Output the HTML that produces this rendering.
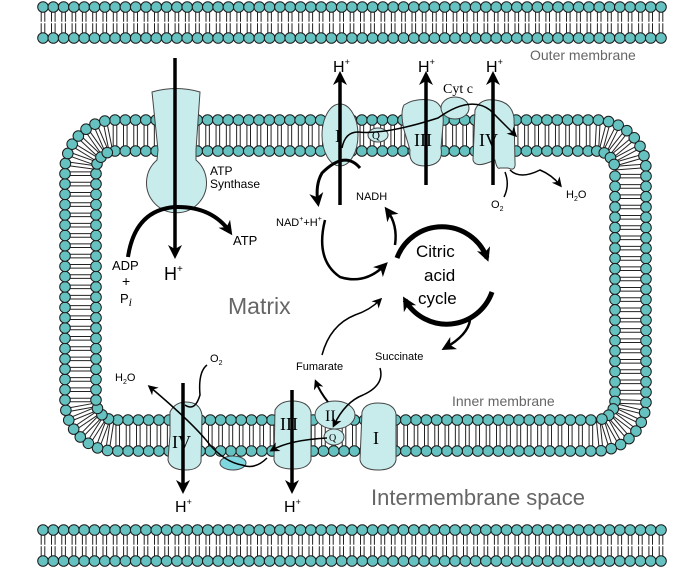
<!DOCTYPE html>
<html><head><meta charset="utf-8"><style>
html,body{margin:0;padding:0;background:#fff;width:687px;height:577px;overflow:hidden}
svg{display:block}
text{font-family:"Liberation Sans",sans-serif}
.s{font-family:"Liberation Serif",serif}
</style></head><body>
<svg id="svg" width="687" height="577" viewBox="0 0 687 577" xmlns="http://www.w3.org/2000/svg">
<defs>
<marker id="ah" markerWidth="10" markerHeight="10" refX="7" refY="5" orient="auto" markerUnits="userSpaceOnUse"><path d="M0,0 L10,5 L0,10 L3,5 Z" fill="#000"/></marker>
<marker id="ahb" markerWidth="14" markerHeight="14" refX="10" refY="7" orient="auto" markerUnits="userSpaceOnUse"><path d="M0,0 L14,7 L0,14 L4,7 Z" fill="#000"/></marker>
</defs>
<g id="mem"></g>
<g fill="#c8ecec" stroke="#444" stroke-width="1">
<path d="M152,92 Q176,85 200,92 L196,150 L196,160 A30,30 0 1 1 157,160 L158,150 Z"/>
<ellipse cx="340" cy="135" rx="18" ry="31"/>
<path d="M404,105 Q415,98 430,100 Q445,102 443,125 L441,148 Q444,165 425,166 Q408,166 410,150 L404,130 Q400,112 404,105 Z"/>
<ellipse cx="455" cy="108" rx="14" ry="11"/>
<path d="M475,110 Q480,98 495,100 Q512,102 514,118 L515,162 Q516,172 508,168 L500,168 Q497,170 495,160 L490,162 Q475,168 473,160 Z"/>
<ellipse cx="378" cy="135" rx="10" ry="7"/>
<path d="M170,412 Q175,402 186,402 Q200,402 202,415 L201,462 Q198,470 186,470 Q170,470 168,460 L170,435 Z"/>
<path d="M275,410 Q280,401 292,401 Q308,401 311,412 L311,460 Q308,469 293,469 Q276,469 274,460 Z"/>
<ellipse cx="335" cy="415" rx="20" ry="14"/>
<ellipse cx="334" cy="437" rx="10" ry="8"/>
<path d="M362,412 Q365,403 378,403 Q394,403 396,414 L396,460 Q394,470 378,470 Q362,470 360,460 Z"/>
<ellipse cx="233" cy="463" rx="13" ry="7" fill="#7fd8e0"/>
</g>
<g stroke="#000" fill="none">
<line x1="175" y1="58" x2="175" y2="255" stroke-width="3.5" marker-end="url(#ahb)"/>
<path d="M128,257 Q135,210 175,207 Q212,206 230,232" stroke-width="4" marker-end="url(#ahb)"/>
<line x1="340" y1="205" x2="340" y2="75" stroke-width="3.5" marker-end="url(#ahb)"/>
<line x1="426" y1="185" x2="426" y2="75" stroke-width="3.5" marker-end="url(#ahb)"/>
<line x1="493" y1="185" x2="493" y2="75" stroke-width="3.5" marker-end="url(#ahb)"/>
<path d="M342,148 Q345,132 358,132 Q385,135 438,118 Q470,95 490,110 Q505,125 515,135" stroke-width="1.5" marker-end="url(#ah)"/>
<path d="M360,168 Q345,150 322,173 Q315,185 318,203" stroke-width="3" marker-end="url(#ahb)"/>
<path d="M325,220 Q315,260 340,277 Q365,285 385,265" stroke-width="2.5" marker-end="url(#ahb)"/>
<path d="M395,245 Q398,225 387,210" stroke-width="2.5" marker-end="url(#ahb)"/>
<path d="M510,170 Q520,180 540,170 Q552,175 560,185" stroke-width="1.5" marker-end="url(#ah)"/>
<path d="M504,197 Q510,185 505,172" stroke-width="1.5"/>
<path d="M397,258 A48,48 0 0 1 487,258" stroke-width="5" marker-end="url(#ahb)"/>
<path d="M492,292 A48,48 0 0 1 405,300" stroke-width="5" marker-end="url(#ahb)"/>
<path d="M470,320 Q468,335 445,348" stroke-width="2.5" marker-end="url(#ahb)"/>
<path d="M322,355 Q330,325 355,315 Q370,310 380,300" stroke-width="1.5" marker-end="url(#ah)"/>
<path d="M380,368 Q385,385 363,395 Q345,402 334,425" stroke-width="1.5" marker-end="url(#ah)"/>
<path d="M328,402 Q320,392 316,382" stroke-width="2" marker-end="url(#ah)"/>
<path d="M327,438 Q290,440 272,450" stroke-width="1.5" marker-end="url(#ah)"/>
<path d="M267,458 Q255,470 242,465 Q225,462 210,445 Q195,425 150,387" stroke-width="1.5" marker-end="url(#ah)"/>
<path d="M207,365 Q198,372 200,395 Q195,412 185,405" stroke-width="1.5"/>
<line x1="183" y1="383" x2="183" y2="490" stroke-width="3.5" marker-end="url(#ahb)"/>
<line x1="292" y1="390" x2="292" y2="490" stroke-width="3.5" marker-end="url(#ahb)"/>
</g>
<g fill="#000">
<text x="210" y="175" font-size="12">ATP</text>
<text x="210" y="188" font-size="12">Synthase</text>
<text x="233" y="245" font-size="13">ATP</text>
<text x="112" y="270" font-size="13">ADP</text>
<text x="122" y="286" font-size="14">+</text>
<text x="120" y="303" font-size="13">P<tspan font-size="12" font-style="italic" class="s" dy="3">i</tspan></text>
<text x="164" y="280" font-size="18">H<tspan font-size="10" dy="-8">+</tspan></text>
<text x="333" y="72" font-size="16">H<tspan font-size="9" dy="-7">+</tspan></text>
<text x="418" y="72" font-size="16">H<tspan font-size="9" dy="-7">+</tspan></text>
<text x="486" y="72" font-size="16">H<tspan font-size="9" dy="-7">+</tspan></text>
<text x="443" y="93" font-size="14" class="s">Cyt c</text>
<text x="335" y="142" font-size="18" class="s">I</text>
<text x="372" y="139" font-size="11" class="s">Q</text>
<text x="414" y="146" font-size="18" class="s">III</text>
<text x="479" y="146" font-size="18" class="s">IV</text>
<text x="356" y="200" font-size="11">NADH</text>
<text x="276" y="226" font-size="11">NAD<tspan font-size="7" dy="-5">+</tspan><tspan dy="5">+H</tspan><tspan font-size="7" dy="-5">+</tspan></text>
<text x="566" y="198" font-size="11">H<tspan font-size="7" dy="3">2</tspan><tspan dy="-3">O</tspan></text>
<text x="491" y="208" font-size="11">O<tspan font-size="7" dy="3">2</tspan></text>
<text x="416" y="257" font-size="17">Citric</text>
<text x="424" y="281" font-size="17">acid</text>
<text x="418" y="304" font-size="17">cycle</text>
<text x="375" y="360" font-size="11">Succinate</text>
<text x="296" y="370" font-size="11">Fumarate</text>
<text x="115" y="381" font-size="11">H<tspan font-size="7" dy="3">2</tspan><tspan dy="-3">O</tspan></text>
<text x="210" y="362" font-size="11">O<tspan font-size="7" dy="3">2</tspan></text>
<text x="172" y="448" font-size="18" class="s">IV</text>
<text x="280" y="430" font-size="18" class="s">III</text>
<text x="325" y="421" font-size="16" class="s">II</text>
<text x="329" y="441" font-size="10" class="s">Q</text>
<text x="373" y="444" font-size="18" class="s">I</text>
<text x="175" y="512" font-size="16">H<tspan font-size="9" dy="-7">+</tspan></text>
<text x="284" y="512" font-size="16">H<tspan font-size="9" dy="-7">+</tspan></text>
</g>
<g fill="#666">
<text x="228" y="314" font-size="23">Matrix</text>
<text x="530" y="60" font-size="14">Outer membrane</text>
<text x="452" y="406" font-size="14">Inner membrane</text>
<text x="371" y="505" font-size="22">Intermembrane space</text>
</g>
</svg>
<script>
(function(){
var NS="http://www.w3.org/2000/svg",g=document.getElementById("mem");
var tails=document.createElementNS(NS,"g"),heads=document.createElementNS(NS,"g");
g.appendChild(tails);g.appendChild(heads);
function el(p,t,a){var e=document.createElementNS(NS,t);for(var k in a)e.setAttribute(k,a[k]);p.appendChild(e);return e;}
function pair(x1,y1,x2,y2){
 var dx=x2-x1,dy=y2-y1,L=Math.hypot(dx,dy),nx=-dy/L*1.8,ny=dx/L*1.8;
 el(tails,"line",{x1:x1+nx,y1:y1+ny,x2:x2+nx,y2:y2+ny,stroke:"#222","stroke-width":"1"});
 el(tails,"line",{x1:x1-nx,y1:y1-ny,x2:x2-nx,y2:y2-ny,stroke:"#222","stroke-width":"1"});
}
function head(x,y){el(heads,"circle",{cx:x,cy:y,r:5.3,fill:"#66c2c0",stroke:"#1a1a1a","stroke-width":"1"});}
function straight(y1,y2){
 for(var x=43;x<=662;x+=10.3){pair(x,y1,x,y2);head(x,y1);head(x,y2);}
 el(tails,"line",{x1:40,y1:(y1+y2)/2,x2:665,y2:(y1+y2)/2,stroke:"#fff","stroke-width":"1.5"});
}
straight(7,38);straight(530,561);
var x0=65,y0=120,x1=646,y1=451,r=50,t=31;
var p=el(g,"path",{d:"M"+(x0+r)+","+y0+" L"+(x1-r)+","+y0+" A"+r+","+r+" 0 0 1 "+x1+","+(y0+r)+" L"+x1+","+(y1-r)+" A"+r+","+r+" 0 0 1 "+(x1-r)+","+y1+" L"+(x0+r)+","+y1+" A"+r+","+r+" 0 0 1 "+x0+","+(y1-r)+" L"+x0+","+(y0+r)+" A"+r+","+r+" 0 0 1 "+(x0+r)+","+y0+" Z",fill:"none",stroke:"none"});
var L=p.getTotalLength(),n=Math.round(L/10.3),st=L/n,lx=-99,ly=-99,fx=null,fy=null;
for(var i=0;i<n;i++){
 var s=i*st,a=p.getPointAtLength(s),b=p.getPointAtLength((s+0.5)%L);
 var dx=b.x-a.x,dy=b.y-a.y,l=Math.hypot(dx,dy);
 var nx=-dy/l,ny=dx/l;
 var ix=a.x+nx*t,iy=a.y+ny*t;
 pair(a.x,a.y,ix,iy);head(a.x,a.y);
 if(Math.hypot(ix-lx,iy-ly)>=7.5 && (fx===null||i<n-2||Math.hypot(ix-fx,iy-fy)>=7.5)){head(ix,iy);lx=ix;ly=iy;if(fx===null){fx=ix;fy=iy;}}
}
})();
</script>
</body></html>
